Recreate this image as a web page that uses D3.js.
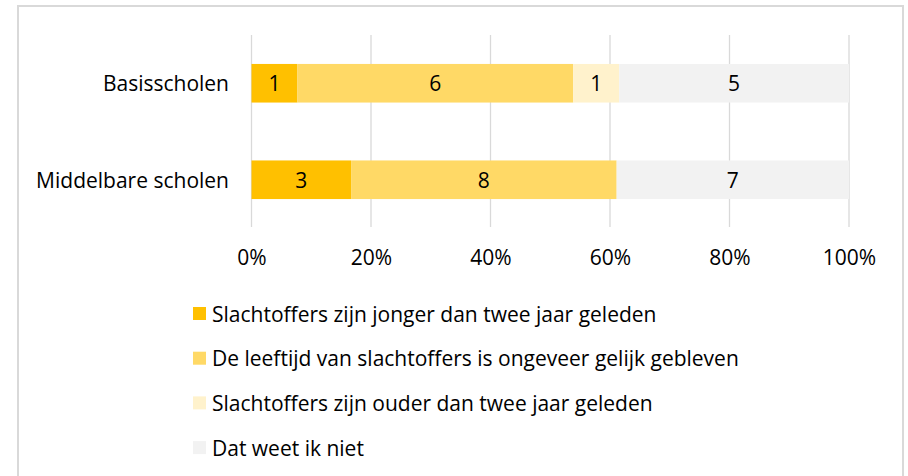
<!DOCTYPE html>
<html><head><meta charset="utf-8">
<script src="https://cdn.jsdelivr.net/npm/d3@7"></script>
<style>body{margin:0;background:#fff}svg{display:block}</style>
</head><body>
<svg id="c" width="908" height="476"></svg>
<script>
const categories = ["Basisscholen", "Middelbare scholen"];
const seriesNames = [
  "Slachtoffers zijn jonger dan twee jaar geleden",
  "De leeftijd van slachtoffers is ongeveer gelijk gebleven",
  "Slachtoffers zijn ouder dan twee jaar geleden",
  "Dat weet ik niet"
];
const jonger = [1, 3];
const gelijk = [6, 8];
const ouder = [1, 0];
const weetNiet = [5, 7];
const colors = ["#FFC000", "#FFD966", "#FFF2CC", "#F2F2F2"];
const tickValues = [0, 0.2, 0.4, 0.6, 0.8, 1];

const font = "'Open Sans', sans-serif";
const fs = 21;
const svg = d3.select("#c");

svg.append("rect").attr("x", 18).attr("y", 6).attr("width", 885).attr("height", 480)
  .attr("fill", "#fff").attr("stroke", "#D9D9D9").attr("stroke-width", 2);

const seriesVals = [jonger, gelijk, ouder, weetNiet];
const rows = categories.map((c, i) => {
  const o = {cat: c};
  seriesNames.forEach((s, j) => o[s] = seriesVals[j][i]);
  return o;
});
const stacked = d3.stack().keys(seriesNames).offset(d3.stackOffsetExpand)(rows);

const x = d3.scaleLinear().domain([0, 1]).range([251.5, 849]);
const y = d3.scaleBand().domain(categories).range([35, 228]).paddingInner(0.6).paddingOuter(0.3);

// gridlines
svg.append("g").selectAll("line").data(tickValues).join("line")
  .attr("x1", d => x(d)).attr("x2", d => x(d)).attr("y1", 35).attr("y2", 227)
  .attr("stroke", "#D9D9D9").attr("stroke-width", 1.3);

// bars
const g = svg.append("g");
stacked.forEach((s, j) => {
  g.append("g").selectAll("rect").data(s).join("rect")
    .attr("x", d => x(d[0])).attr("width", d => x(d[1]) - x(d[0]))
    .attr("y", d => y(d.data.cat)).attr("height", y.bandwidth())
    .attr("fill", colors[j]);
  g.append("g").selectAll("text").data(s.filter(d => d.data[s.key] > 0)).join("text")
    .attr("x", d => (x(d[0]) + x(d[1])) / 2).attr("y", d => y(d.data.cat) + y.bandwidth() / 2)
    .attr("text-anchor", "middle").attr("dominant-baseline", "central")
    .attr("font-family", font).attr("font-size", fs).attr("fill", "#000")
    .text(d => d.data[s.key]);
});

// category labels
svg.append("g").selectAll("text").data(categories).join("text")
  .attr("x", 229).attr("y", d => y(d) + y.bandwidth() / 2)
  .attr("text-anchor", "end").attr("dominant-baseline", "central")
  .attr("font-family", font).attr("font-size", fs).attr("fill", "#000").text(d => d);

// x axis labels
const xAxis = d3.axisBottom(x).tickValues(tickValues).tickFormat(d3.format(".0%")).tickSize(0).tickPadding(0);
const ax = svg.append("g").attr("transform", "translate(0,250)").call(xAxis);
ax.select(".domain").remove();
ax.selectAll("text").attr("font-family", font).attr("font-size", fs).attr("fill", "#000").attr("dy", "0.71em");

// legend
const lg = svg.append("g").selectAll("g").data(seriesNames).join("g")
  .attr("transform", (d, i) => `translate(193,${313.5 + i * 44.7})`);
lg.append("rect").attr("x", 0).attr("y", -6.5).attr("width", 13).attr("height", 13)
  .attr("fill", (d, i) => colors[i]);
lg.append("text").attr("x", 19).attr("y", 0).attr("dominant-baseline", "central")
  .attr("font-family", font).attr("font-size", fs).attr("fill", "#000").text(d => d);
</script>
</body></html>
